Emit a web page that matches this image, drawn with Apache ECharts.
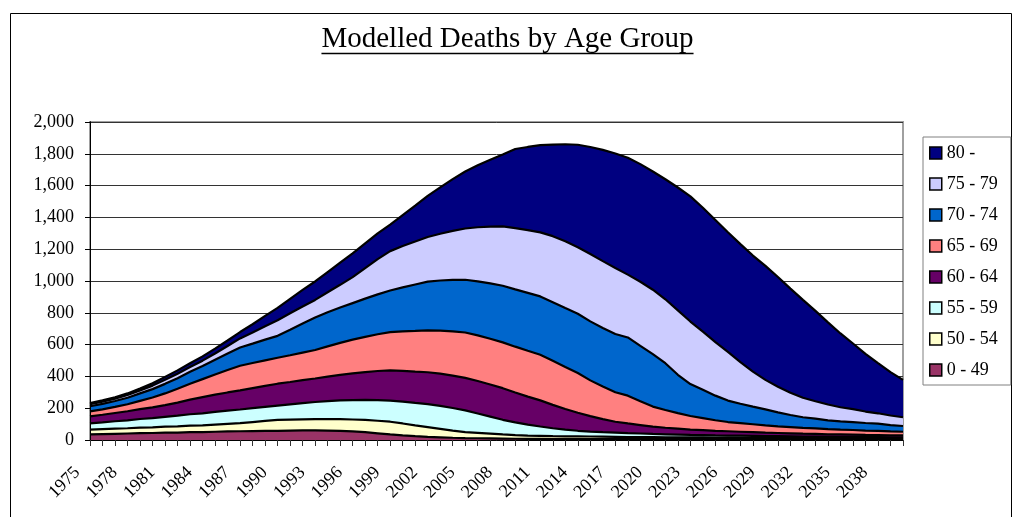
<!DOCTYPE html>
<html>
<head>
<meta charset="utf-8">
<script src="https://cdn.jsdelivr.net/npm/echarts@6/dist/echarts.min.js"></script>
<style>
html,body{margin:0;padding:0;background:#fff;}
#chart{width:1012px;height:517px;}
</style>
</head>
<body>
<div id="chart"></div>
<script>
var titleText = 'Modelled Deaths by Age Group';
var years = ['1975','1976','1977','1978','1979','1980','1981','1982','1983','1984','1985','1986','1987','1988','1989','1990','1991','1992','1993','1994','1995','1996','1997','1998','1999','2000','2001','2002','2003','2004','2005','2006','2007','2008','2009','2010','2011','2012','2013','2014','2015','2016','2017','2018','2019','2020','2021','2022','2023','2024','2025','2026','2027','2028','2029','2030','2031','2032','2033','2034','2035','2036','2037','2038','2039','2040'];
var yTicks = [0,200,400,600,800,1000,1200,1400,1600,1800,2000];
var seriesNames = ['0 - 49','50 - 54','55 - 59','60 - 64','65 - 69','70 - 74','75 - 79','80 -'];
var seriesColors = ['#993366','#FFFFCC','#CCFFFF','#660066','#FF8080','#0066CC','#CCCCFF','#000080'];

var age0_49 = [35,37,39,41,43,44,46,47,49,50,52,54,55,56,57,58,59,60,60,59,57,54,49,42,35,29,24,20,17,14,12,11,10,9,8,7,7,6,6,6,6,6,5,5,5,5,5,5,5,5,5,5,5,5,5,5,5,5,5,5,5,5,5,5,5,5];
var age50_54 = [30,31,32,33,35,36,38,39,41,42,45,48,51,57,63,68,69,70,71,72,74,75,77,79,80,75,68,61,53,45,38,34,30,26,23,21,19,18,17,17,16,15,15,14,14,13,12,12,11,11,10,10,10,9,9,9,8,8,8,7,7,7,6,6,5,5];
var age55_59 = [40,43,47,50,54,58,62,67,72,76,80,83,86,87,88,90,96,102,108,113,118,122,126,130,133,137,141,145,145,142,136,122,107,92,80,69,59,50,42,35,31,28,26,24,22,20,19,17,16,15,14,13,12,12,11,10,10,9,9,8,8,8,7,7,7,7];
var age60_64 = [44,48,52,57,62,67,73,82,92,102,108,114,120,126,132,138,141,145,148,155,161,168,175,183,190,194,197,200,202,204,205,204,202,199,188,176,164,147,130,113,97,82,69,61,53,46,41,37,33,31,29,27,25,23,21,20,19,18,17,16,15,14,14,13,13,13];
var age65_69 = [31,34,38,44,52,62,74,87,100,113,127,141,155,158,161,163,168,173,179,190,201,212,222,231,240,248,256,264,271,278,285,287,288,288,288,288,287,277,264,250,225,205,185,175,150,126,112,98,86,76,66,58,54,50,46,42,39,36,34,32,30,29,27,26,24,22];
var age70_74 = [32,34,37,41,47,53,60,67,75,83,93,104,115,122,130,138,160,183,205,215,222,230,240,251,262,277,292,306,315,324,332,340,348,356,360,364,367,369,371,373,371,369,367,366,348,330,294,241,201,178,155,135,122,111,101,88,76,67,61,56,52,50,48,46,40,36];
var age75_79 = [13,14,15,17,19,22,26,28,30,33,39,47,57,70,85,98,104,107,110,125,143,163,192,222,248,260,270,281,294,308,322,340,357,374,385,395,403,415,420,418,424,420,415,395,403,405,402,405,393,365,337,306,262,220,185,161,140,123,110,99,89,81,72,65,60,55];
var age80plus = [8,8,9,10,12,15,18,21,24,27,31,35,40,52,65,78,91,104,116,127,139,150,156,161,167,195,226,258,292,326,359,390,420,451,498,523,548,576,610,645,673,700,720,735,740,744,755,773,787,780,768,753,742,730,717,690,655,615,568,517,464,413,363,315,273,235];

var seriesData = [age0_49, age50_54, age55_59, age60_64, age65_69, age70_74, age75_79, age80plus];
var FONT = '"Liberation Serif", "Times New Roman", serif';

var chart = echarts.init(document.getElementById('chart'), null, {renderer:'canvas'});

var ctx = document.createElement('canvas').getContext('2d');
ctx.font = '29px "Liberation Serif"';
var tw = ctx.measureText(titleText).width;
var tcx = 507.5;

var series = seriesNames.map(function(name, k){
  return {
    name: name,
    type: 'line',
    stack: 'total',
    data: seriesData[k],
    symbol: 'none',
    showSymbol: false,
    z: 10 - k,
    itemStyle: {color: seriesColors[k]},
    lineStyle: {color: '#000', width: 2.2},
    areaStyle: {color: seriesColors[k], opacity: 1},
    emphasis: {disabled: true},
    animation: false
  };
});

var option = {
  animation: false,
  backgroundColor: '#fff',
  grid: {left: 90, right: 109, top: 122, bottom: 77, show: true, borderColor: '#a0a0a0', borderWidth: 2, backgroundColor: '#fff'},
  xAxis: {
    type: 'category',
    data: years,
    boundaryGap: false,
    z: 12,
    axisLine: {lineStyle: {color: '#000', width: 1}},
    axisTick: {show: true, interval: 0, length: 6, lineStyle: {color: '#333'}},
    axisLabel: {interval: 2, rotate: 45, margin: 17, padding: [0, 18, 0, 0], fontSize: 18, fontFamily: FONT, color: '#000'},
    splitLine: {show: false}
  },
  yAxis: [{
    type: 'value',
    min: yTicks[0],
    max: yTicks[yTicks.length - 1],
    interval: yTicks[1] - yTicks[0],
    axisLine: {show: true, lineStyle: {color: '#000'}},
    axisTick: {show: true, length: 5, lineStyle: {color: '#000'}},
    axisLabel: {margin: 16, fontSize: 18, fontFamily: FONT, color: '#000',
      formatter: function(v){ return v.toLocaleString('en-US'); }},
    splitLine: {show: true, lineStyle: {color: '#333', width: 1}}
  }, {
    type: 'value',
    position: 'left',
    min: yTicks[0],
    max: yTicks[yTicks.length - 1],
    z: 12,
    axisLine: {show: true, onZero: false, lineStyle: {color: '#000'}},
    axisTick: {show: false},
    axisLabel: {show: false},
    splitLine: {show: false}
  }],
  legend: {
    orient: 'vertical',
    left: 923,
    top: 137,
    padding: [7, 13, 6, 6],
    itemGap: 13,
    itemWidth: 12,
    itemHeight: 12,
    icon: 'rect',
    borderColor: '#808080',
    borderWidth: 1,
    selectedMode: false,
    itemStyle: {borderColor: '#000', borderWidth: 1.5},
    textStyle: {fontSize: 18, fontFamily: FONT, color: '#000'},
    data: seriesNames.slice().reverse()
  },
  graphic: [
    {type: 'rect', silent: true, z: -10, shape: {x: 10.5, y: 13.5, width: 1001, height: 530}, style: {fill: 'none', stroke: '#000', lineWidth: 1}},
    {type: 'text', silent: true, x: tcx, y: 39, style: {text: titleText, fontSize: 29, fontFamily: FONT, fill: '#000', align: 'center', verticalAlign: 'middle'}},
    {type: 'line', silent: true, shape: {x1: tcx - tw / 2, y1: 53.5, x2: tcx + tw / 2, y2: 53.5}, style: {stroke: '#000', lineWidth: 1.5}}
  ],
  series: series
};
chart.setOption(option);
</script>
</body>
</html>
